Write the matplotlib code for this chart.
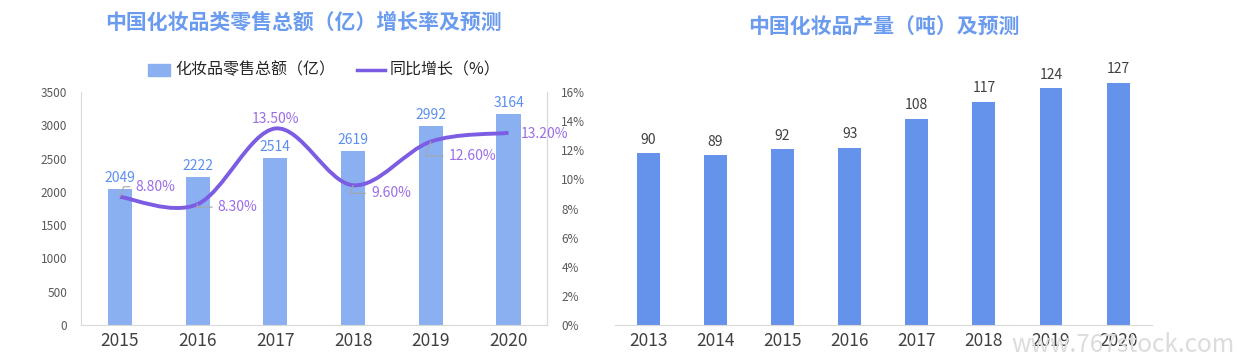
import numpy as np
import matplotlib.pyplot as plt
from matplotlib.path import Path
from matplotlib.patches import PathPatch

plt.rcParams['font.family'] = ['Noto Sans CJK SC', 'DejaVu Sans']

# left chart data
years_l = ['2015', '2016', '2017', '2018', '2019', '2020']
sales = [2049, 2222, 2514, 2619, 2992, 3164]
growth = [8.8, 8.3, 13.5, 9.6, 12.6, 13.2]
growth_labels = ['8.80%', '8.30%', '13.50%', '9.60%', '12.60%', '13.20%']

# right chart data
years_r = ['2013', '2014', '2015', '2016', '2017', '2018', '2019', '2020']
output = [90, 89, 92, 93, 108, 117, 124, 127]

title_c = '#6A9BEF'
bar_l = '#8AB0F2'
bar_r = '#6593EC'
line_c = '#7B5CE3'
lab_blue = '#5B8FF0'
lab_purple = '#9A6DE8'
axis_c = '#D9D9D9'
tick_c = '#404040'

fig = plt.figure(figsize=(12.37, 3.6), dpi=100)

# ---------- left chart ----------
ax = fig.add_axes([0.0655, 0.0972, 0.377, 0.647])
x = np.arange(len(years_l))
ax.bar(x, sales, width=0.31, color=bar_l, zorder=2)
ax.set_xlim(-0.5, len(x) - 0.5)
ax.set_ylim(0, 3500)
ax.set_yticks(np.arange(0, 3501, 500))
ax.set_xticks(x)
ax.set_xticklabels(years_l, fontsize=12.5, color=tick_c)
ax.tick_params(axis='y', labelsize=8.5, colors='#595959', length=0, pad=10)
ax.tick_params(axis='x', length=0, pad=5)
ax.spines['top'].set_visible(False)
for s in ['left', 'right', 'bottom']:
    ax.spines[s].set_color(axis_c)
for xi, v in zip(x, sales):
    ax.text(xi, v + 60, str(v), ha='center', va='bottom', fontsize=10, color=lab_blue)

ax2 = ax.twinx()
ax2.set_ylim(0, 16)
ax2.set_yticks(np.arange(0, 17, 2))
ax2.set_yticklabels([f'{t}%' for t in range(0, 17, 2)])
ax2.tick_params(axis='y', labelsize=8.5, colors='#595959', length=0, pad=10)
for s in ['top', 'left', 'bottom']:
    ax2.spines[s].set_visible(False)
ax2.spines['right'].set_color(axis_c)

# smooth line through the points (Catmull-Rom as cubic beziers)
pts = np.column_stack([x, growth]).astype(float)
ext = np.vstack([pts[0], pts, pts[-1]])
verts = [tuple(pts[0])]
codes = [Path.MOVETO]
for i in range(len(pts) - 1):
    p0, p1, p2, p3 = ext[i], ext[i + 1], ext[i + 2], ext[i + 3]
    c1 = p1 + (p2 - p0) / 6
    c2 = p2 - (p3 - p1) / 6
    verts += [tuple(c1), tuple(c2), tuple(p2)]
    codes += [Path.CURVE4] * 3
ax2.add_patch(PathPatch(Path(verts, codes), facecolor='none', edgecolor=line_c, lw=2.8, zorder=3))

# label positions (x offset, y in % units) and whether a leader line is drawn
label_pos = [(0.2, 9.5, True), (0.26, 8.1, True), (0.0, 14.15, False),
             (0.23, 9.05, True), (0.23, 11.6, True), (0.16, 13.1, False)]
for xi, (dx, ty, lead), lab, g in zip(x, label_pos, growth_labels, growth):
    ha = 'center' if dx == 0 else 'left'
    if lead:
        ax2.annotate(lab, xy=(xi, g), xytext=(xi + dx, ty), ha=ha, va='center',
                     fontsize=10, color=lab_purple, zorder=4,
                     arrowprops=dict(arrowstyle='-', color='#A6A6A6', lw=0.8,
                                     shrinkA=2, shrinkB=0,
                                     connectionstyle='angle,angleA=0,angleB=70'))
    else:
        ax2.text(xi + dx, ty, lab, ha=ha, va='center', fontsize=10, color=lab_purple, zorder=4)

# legend
fig.patches.append(plt.Rectangle((148 / 1237, 1 - 76 / 360), 22 / 1237, 12 / 360,
                                 transform=fig.transFigure, color=bar_l))
fig.text(175 / 1237, 1 - 70 / 360, '化妆品零售总额（亿）', fontsize=11.5, color='#262626', va='center')
fig.lines.append(plt.Line2D([357 / 1237, 385 / 1237], [1 - 70 / 360] * 2,
                            transform=fig.transFigure, color=line_c, lw=2.5))
fig.text(390 / 1237, 1 - 70 / 360, '同比增长（%）', fontsize=11.5, color='#262626', va='center')

fig.text(303 / 1237, 1 - 22 / 360, '中国化妆品类零售总额（亿）增长率及预测',
         fontsize=15, fontweight='bold', color=title_c, ha='center', va='center')

# ---------- right chart ----------
bx = fig.add_axes([0.497, 0.0972, 0.434, 0.742])
xr = np.arange(len(years_r))
bx.bar(xr, output, width=0.34, color=bar_r, zorder=2)
bx.set_xlim(-0.5, len(xr) - 0.5)
bx.set_ylim(0, 140)
bx.set_yticks([])
bx.set_xticks(xr)
bx.set_xticklabels(years_r, fontsize=12.5, color=tick_c)
bx.tick_params(axis='x', length=0, pad=5)
for s in ['top', 'left', 'right']:
    bx.spines[s].set_visible(False)
bx.spines['bottom'].set_color(axis_c)
for xi, v in zip(xr, output):
    bx.text(xi, v + 3.5, str(v), ha='center', va='bottom', fontsize=10, color='#404040')

fig.text(884 / 1237, 1 - 27 / 360, '中国化妆品产量（吨）及预测',
         fontsize=15, fontweight='bold', color=title_c, ha='center', va='center')

# site watermark at the bottom right corner
fig.text(1235 / 1237, 1 - 345 / 360, 'www.767stock.com', fontsize=17.5, color='#DCDCDC',
         ha='right', va='center', zorder=0)

fig.savefig('out.png', dpi=100)
